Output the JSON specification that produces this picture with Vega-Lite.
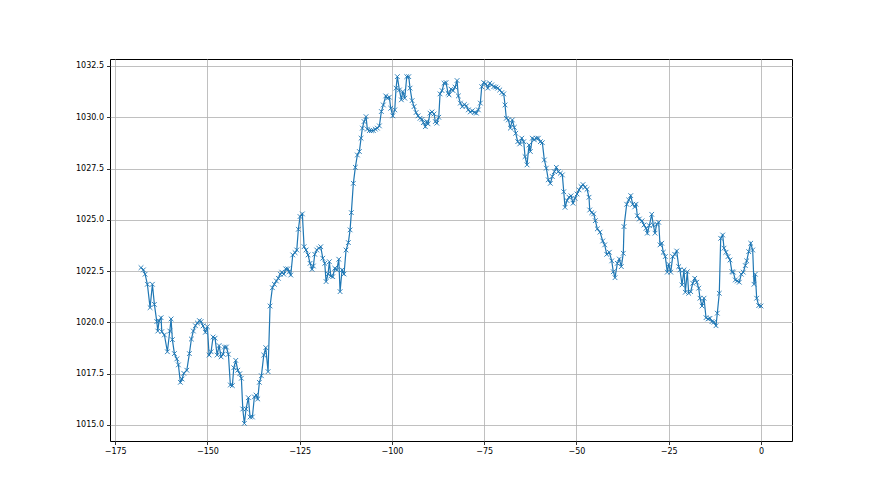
{
  "$schema": "https://vega.github.io/schema/vega-lite/v6.json",
  "width": 682,
  "height": 382,
  "autosize": {"type": "none"},
  "padding": {"left": 110, "top": 59, "right": 88, "bottom": 54},
  "background": "white",
  "config": {
    "view": {"stroke": "#000000", "strokeWidth": 1},
    "font": "DejaVu Sans",
    "axis": {
      "labelFont": "DejaVu Sans",
      "labelFontSize": 8,
      "labelColor": "#000000",
      "tickColor": "#000000",
      "tickSize": 3.5,
      "tickWidth": 0.8,
      "domain": false,
      "grid": true,
      "gridColor": "#b0b0b0",
      "gridWidth": 0.8,
      "labelPadding": 3,
      "title": null
    }
  },
  "data": {
    "values": [
      {"t": -168.0, "p": 1022.67}, {"t": -167.35, "p": 1022.56}, {"t": -166.89, "p": 1022.35}, {"t": -166.27, "p": 1021.86},
      {"t": -165.54, "p": 1020.72}, {"t": -164.91, "p": 1021.86}, {"t": -164.37, "p": 1020.88}, {"t": -163.72, "p": 1020.04},
      {"t": -163.45, "p": 1019.58}, {"t": -163.10, "p": 1020.07}, {"t": -162.56, "p": 1020.23}, {"t": -162.37, "p": 1019.55},
      {"t": -161.66, "p": 1019.39}, {"t": -160.85, "p": 1018.57}, {"t": -160.20, "p": 1019.58}, {"t": -159.85, "p": 1020.17},
      {"t": -159.50, "p": 1019.16}, {"t": -158.95, "p": 1018.48}, {"t": -158.30, "p": 1018.22}, {"t": -157.87, "p": 1017.93},
      {"t": -157.33, "p": 1017.08}, {"t": -156.87, "p": 1017.24}, {"t": -156.41, "p": 1017.52}, {"t": -155.59, "p": 1017.67},
      {"t": -154.89, "p": 1018.48}, {"t": -154.35, "p": 1019.19}, {"t": -153.81, "p": 1019.58}, {"t": -153.26, "p": 1019.84},
      {"t": -152.72, "p": 1019.97}, {"t": -152.18, "p": 1020.09}, {"t": -151.72, "p": 1020.04}, {"t": -151.18, "p": 1019.83},
      {"t": -150.55, "p": 1019.52}, {"t": -150.01, "p": 1019.79}, {"t": -149.55, "p": 1018.41}, {"t": -149.01, "p": 1018.57},
      {"t": -148.47, "p": 1019.29}, {"t": -147.93, "p": 1019.23}, {"t": -147.38, "p": 1018.41}, {"t": -146.84, "p": 1018.87},
      {"t": -146.30, "p": 1018.32}, {"t": -145.76, "p": 1018.45}, {"t": -145.41, "p": 1018.80}, {"t": -144.87, "p": 1018.80},
      {"t": -144.32, "p": 1018.45}, {"t": -143.78, "p": 1016.95}, {"t": -143.24, "p": 1016.92}, {"t": -142.86, "p": 1017.79},
      {"t": -142.32, "p": 1018.15}, {"t": -141.78, "p": 1017.67}, {"t": -141.24, "p": 1017.50}, {"t": -140.80, "p": 1017.28},
      {"t": -140.42, "p": 1015.78}, {"t": -139.99, "p": 1015.08}, {"t": -139.53, "p": 1015.78}, {"t": -138.91, "p": 1016.33},
      {"t": -138.44, "p": 1015.39}, {"t": -137.82, "p": 1015.39}, {"t": -137.28, "p": 1016.37}, {"t": -136.82, "p": 1016.46},
      {"t": -136.36, "p": 1016.27}, {"t": -135.93, "p": 1017.08}, {"t": -135.38, "p": 1017.40}, {"t": -134.73, "p": 1018.41},
      {"t": -134.19, "p": 1018.77}, {"t": -133.57, "p": 1017.60}, {"t": -133.03, "p": 1020.80}, {"t": -132.40, "p": 1021.69},
      {"t": -131.86, "p": 1021.86}, {"t": -131.32, "p": 1022.02}, {"t": -130.78, "p": 1022.15}, {"t": -130.24, "p": 1022.35},
      {"t": -129.86, "p": 1022.45}, {"t": -129.31, "p": 1022.35}, {"t": -128.77, "p": 1022.61}, {"t": -128.23, "p": 1022.61},
      {"t": -127.88, "p": 1022.47}, {"t": -127.42, "p": 1022.31}, {"t": -126.88, "p": 1023.29}, {"t": -126.25, "p": 1023.40},
      {"t": -125.79, "p": 1023.53}, {"t": -125.36, "p": 1024.54}, {"t": -124.90, "p": 1025.16}, {"t": -124.28, "p": 1025.29},
      {"t": -123.81, "p": 1023.69}, {"t": -123.27, "p": 1023.53}, {"t": -122.73, "p": 1023.29}, {"t": -122.19, "p": 1022.88},
      {"t": -121.65, "p": 1022.59}, {"t": -121.30, "p": 1022.75}, {"t": -120.92, "p": 1023.32}, {"t": -120.37, "p": 1023.53},
      {"t": -119.83, "p": 1023.62}, {"t": -119.29, "p": 1023.69}, {"t": -118.75, "p": 1023.13}, {"t": -118.21, "p": 1022.88},
      {"t": -117.85, "p": 1021.99}, {"t": -117.31, "p": 1022.36}, {"t": -116.96, "p": 1022.96}, {"t": -116.58, "p": 1022.26},
      {"t": -116.04, "p": 1022.23}, {"t": -115.50, "p": 1022.64}, {"t": -114.95, "p": 1022.56}, {"t": -114.41, "p": 1023.08},
      {"t": -114.06, "p": 1021.50}, {"t": -113.52, "p": 1022.56}, {"t": -112.98, "p": 1022.36}, {"t": -112.44, "p": 1023.53},
      {"t": -111.81, "p": 1023.89}, {"t": -111.35, "p": 1024.51}, {"t": -111.00, "p": 1025.35}, {"t": -110.46, "p": 1026.78},
      {"t": -109.92, "p": 1027.56}, {"t": -109.37, "p": 1028.16}, {"t": -108.83, "p": 1028.33}, {"t": -108.37, "p": 1028.98},
      {"t": -108.02, "p": 1029.47}, {"t": -107.56, "p": 1029.79}, {"t": -107.02, "p": 1030.03}, {"t": -106.67, "p": 1029.42},
      {"t": -106.12, "p": 1029.35}, {"t": -105.58, "p": 1029.35}, {"t": -105.04, "p": 1029.35}, {"t": -104.50, "p": 1029.42},
      {"t": -103.96, "p": 1029.47}, {"t": -103.41, "p": 1029.58}, {"t": -102.87, "p": 1030.28}, {"t": -102.33, "p": 1030.60},
      {"t": -101.68, "p": 1031.04}, {"t": -101.25, "p": 1030.93}, {"t": -100.70, "p": 1030.98}, {"t": -100.33, "p": 1030.44},
      {"t": -99.78, "p": 1030.07}, {"t": -99.24, "p": 1030.36}, {"t": -98.89, "p": 1031.42}, {"t": -98.54, "p": 1031.98},
      {"t": -97.99, "p": 1031.33}, {"t": -97.45, "p": 1030.85}, {"t": -97.07, "p": 1031.25}, {"t": -96.53, "p": 1030.93},
      {"t": -95.99, "p": 1031.98}, {"t": -95.45, "p": 1031.98}, {"t": -95.10, "p": 1031.42}, {"t": -94.55, "p": 1030.81},
      {"t": -94.01, "p": 1030.52}, {"t": -93.47, "p": 1030.23}, {"t": -92.93, "p": 1030.07}, {"t": -92.39, "p": 1029.95},
      {"t": -91.84, "p": 1029.90}, {"t": -91.49, "p": 1029.74}, {"t": -90.95, "p": 1029.54}, {"t": -90.57, "p": 1029.79},
      {"t": -90.22, "p": 1029.68}, {"t": -89.68, "p": 1030.20}, {"t": -89.14, "p": 1030.26}, {"t": -88.59, "p": 1030.16},
      {"t": -88.24, "p": 1029.79}, {"t": -87.86, "p": 1029.71}, {"t": -87.32, "p": 1030.00}, {"t": -86.97, "p": 1031.14},
      {"t": -86.43, "p": 1031.30}, {"t": -85.88, "p": 1031.66}, {"t": -85.34, "p": 1031.69}, {"t": -84.80, "p": 1031.17},
      {"t": -84.53, "p": 1031.09}, {"t": -83.99, "p": 1031.37}, {"t": -83.45, "p": 1031.30}, {"t": -82.90, "p": 1031.47},
      {"t": -82.36, "p": 1031.79}, {"t": -82.01, "p": 1031.04}, {"t": -81.47, "p": 1030.69}, {"t": -80.93, "p": 1030.52},
      {"t": -80.38, "p": 1030.62}, {"t": -79.84, "p": 1030.55}, {"t": -79.30, "p": 1030.36}, {"t": -78.76, "p": 1030.26},
      {"t": -78.22, "p": 1030.32}, {"t": -77.68, "p": 1030.23}, {"t": -77.13, "p": 1030.20}, {"t": -76.59, "p": 1030.36},
      {"t": -76.05, "p": 1030.69}, {"t": -75.67, "p": 1031.49}, {"t": -75.13, "p": 1031.69}, {"t": -74.59, "p": 1031.63},
      {"t": -74.05, "p": 1031.42}, {"t": -73.50, "p": 1031.66}, {"t": -72.96, "p": 1031.58}, {"t": -72.42, "p": 1031.49},
      {"t": -71.88, "p": 1031.47}, {"t": -71.34, "p": 1031.42}, {"t": -70.79, "p": 1031.33}, {"t": -70.25, "p": 1031.20},
      {"t": -69.71, "p": 1031.14}, {"t": -69.36, "p": 1030.60}, {"t": -69.01, "p": 1029.95}, {"t": -68.46, "p": 1029.87},
      {"t": -67.92, "p": 1029.47}, {"t": -67.38, "p": 1029.87}, {"t": -66.84, "p": 1029.51}, {"t": -66.46, "p": 1029.22},
      {"t": -65.92, "p": 1028.81}, {"t": -65.38, "p": 1028.70}, {"t": -64.83, "p": 1028.98}, {"t": -64.29, "p": 1028.81},
      {"t": -63.94, "p": 1028.08}, {"t": -63.40, "p": 1027.68}, {"t": -62.86, "p": 1028.65}, {"t": -62.50, "p": 1028.33},
      {"t": -61.96, "p": 1028.98}, {"t": -61.42, "p": 1028.90}, {"t": -60.88, "p": 1028.98}, {"t": -60.34, "p": 1028.98},
      {"t": -59.79, "p": 1028.81}, {"t": -59.25, "p": 1028.76}, {"t": -58.71, "p": 1027.92}, {"t": -58.17, "p": 1027.52},
      {"t": -57.63, "p": 1026.95}, {"t": -57.08, "p": 1026.78}, {"t": -56.54, "p": 1027.11}, {"t": -56.00, "p": 1027.35},
      {"t": -55.46, "p": 1027.56}, {"t": -54.92, "p": 1027.35}, {"t": -54.38, "p": 1027.27}, {"t": -53.83, "p": 1027.19},
      {"t": -53.45, "p": 1026.37}, {"t": -53.10, "p": 1025.61}, {"t": -52.56, "p": 1025.94}, {"t": -52.02, "p": 1026.10},
      {"t": -51.48, "p": 1026.17}, {"t": -50.93, "p": 1025.81}, {"t": -50.39, "p": 1026.05}, {"t": -49.85, "p": 1026.26},
      {"t": -49.31, "p": 1026.46}, {"t": -48.77, "p": 1026.62}, {"t": -48.23, "p": 1026.72}, {"t": -47.68, "p": 1026.59},
      {"t": -47.14, "p": 1026.49}, {"t": -46.60, "p": 1026.10}, {"t": -46.41, "p": 1025.48}, {"t": -45.87, "p": 1025.35},
      {"t": -45.33, "p": 1025.29}, {"t": -44.89, "p": 1024.96}, {"t": -44.35, "p": 1024.56}, {"t": -43.62, "p": 1024.40},
      {"t": -42.89, "p": 1023.97}, {"t": -42.35, "p": 1023.78}, {"t": -41.80, "p": 1023.32}, {"t": -41.10, "p": 1023.42},
      {"t": -40.45, "p": 1023.00}, {"t": -40.02, "p": 1022.47}, {"t": -39.56, "p": 1022.18}, {"t": -38.93, "p": 1022.88},
      {"t": -38.39, "p": 1023.09}, {"t": -37.85, "p": 1022.72}, {"t": -37.31, "p": 1023.37}, {"t": -37.12, "p": 1024.67},
      {"t": -36.39, "p": 1025.76}, {"t": -35.84, "p": 1025.97}, {"t": -35.30, "p": 1026.18}, {"t": -34.76, "p": 1025.76},
      {"t": -34.22, "p": 1025.63}, {"t": -33.87, "p": 1025.76}, {"t": -33.51, "p": 1025.20}, {"t": -32.97, "p": 1025.04},
      {"t": -32.24, "p": 1024.95}, {"t": -31.70, "p": 1024.75}, {"t": -31.16, "p": 1024.59}, {"t": -30.80, "p": 1024.35},
      {"t": -30.26, "p": 1024.72}, {"t": -29.61, "p": 1025.27}, {"t": -29.18, "p": 1024.75}, {"t": -28.72, "p": 1024.35},
      {"t": -28.26, "p": 1024.79}, {"t": -27.72, "p": 1024.88}, {"t": -27.36, "p": 1023.78}, {"t": -26.90, "p": 1023.86},
      {"t": -26.47, "p": 1023.42}, {"t": -25.93, "p": 1023.21}, {"t": -25.39, "p": 1022.45}, {"t": -25.01, "p": 1022.84},
      {"t": -24.46, "p": 1022.45}, {"t": -23.92, "p": 1023.21}, {"t": -23.38, "p": 1023.32}, {"t": -22.84, "p": 1023.48},
      {"t": -22.30, "p": 1022.72}, {"t": -21.95, "p": 1022.56}, {"t": -21.40, "p": 1021.83}, {"t": -20.86, "p": 1022.56},
      {"t": -20.51, "p": 1021.47}, {"t": -19.97, "p": 1022.47}, {"t": -19.59, "p": 1021.42}, {"t": -19.05, "p": 1021.50},
      {"t": -18.50, "p": 1021.91}, {"t": -17.96, "p": 1022.15}, {"t": -17.42, "p": 1021.96}, {"t": -16.88, "p": 1021.67},
      {"t": -16.53, "p": 1021.18}, {"t": -15.98, "p": 1020.80}, {"t": -15.44, "p": 1021.18}, {"t": -14.90, "p": 1020.23},
      {"t": -14.36, "p": 1020.17}, {"t": -13.82, "p": 1020.20}, {"t": -13.28, "p": 1020.04}, {"t": -12.73, "p": 1020.01},
      {"t": -12.19, "p": 1019.84}, {"t": -11.84, "p": 1020.45}, {"t": -11.30, "p": 1021.42}, {"t": -10.92, "p": 1024.10},
      {"t": -10.38, "p": 1024.26}, {"t": -10.02, "p": 1023.62}, {"t": -9.48, "p": 1023.42}, {"t": -8.94, "p": 1023.21},
      {"t": -8.40, "p": 1023.04}, {"t": -7.86, "p": 1022.47}, {"t": -7.50, "p": 1022.45}, {"t": -6.96, "p": 1022.07},
      {"t": -6.42, "p": 1022.02}, {"t": -5.88, "p": 1021.96}, {"t": -5.34, "p": 1022.35}, {"t": -4.80, "p": 1022.45},
      {"t": -4.25, "p": 1022.77}, {"t": -3.87, "p": 1023.00}, {"t": -3.33, "p": 1023.45}, {"t": -2.79, "p": 1023.86},
      {"t": -2.25, "p": 1023.53}, {"t": -1.90, "p": 1021.86}, {"t": -1.54, "p": 1022.35}, {"t": -1.17, "p": 1021.18},
      {"t": -0.62, "p": 1020.82}, {"t": 0.0, "p": 1020.80}
    ]
  },
  "encoding": {
    "x": {
      "field": "t",
      "type": "quantitative",
      "scale": {"domain": [-176.4, 8.4], "nice": false, "zero": false},
      "axis": {"values": [-175, -150, -125, -100, -75, -50, -25, 0], "format": "d"}
    },
    "y": {
      "field": "p",
      "type": "quantitative",
      "scale": {"domain": [1014.22, 1032.84], "nice": false, "zero": false},
      "axis": {"values": [1015, 1017.5, 1020, 1022.5, 1025, 1027.5, 1030, 1032.5], "format": ".1f"}
    }
  },
  "layer": [
    {"mark": {"type": "line", "color": "#1f77b4", "strokeWidth": 1.2, "clip": true}},
    {"mark": {"type": "point", "shape": "M-1,-1L1,1M1,-1L-1,1", "size": 22, "filled": false, "stroke": "#1f77b4", "strokeWidth": 0.9, "opacity": 1, "clip": true}}
  ]
}
